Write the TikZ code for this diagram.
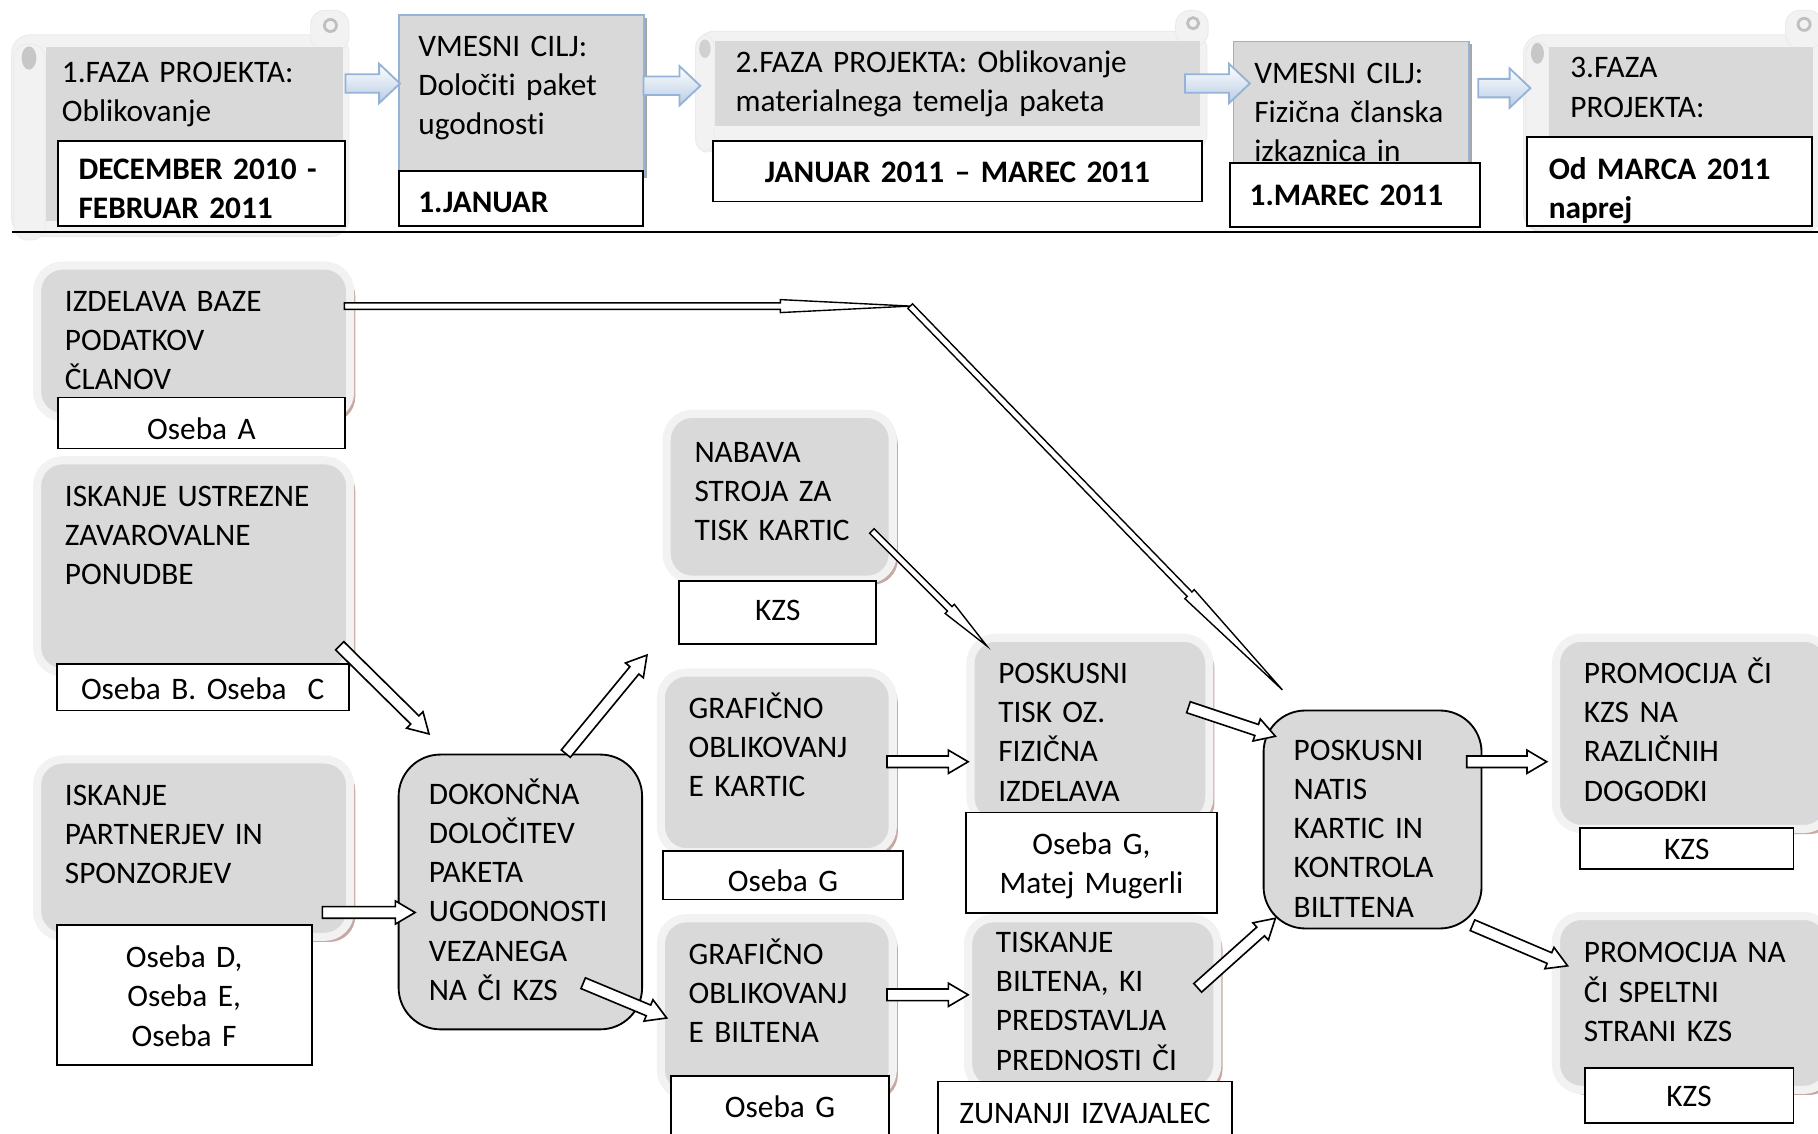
\documentclass[tikz,border=0pt]{standalone}
\usepackage{fontspec}
\setmainfont{Carlito}[Ligatures={TeX,NoCommon}]
\usetikzlibrary{calc,shadows}

\definecolor{boxgray}{HTML}{D9D9D9}
\definecolor{bandgray}{HTML}{F2F2F2}
\definecolor{goalblue}{HTML}{95B3D7}
\definecolor{arrowblue}{HTML}{B8CCE4}
\definecolor{shadowrose}{HTML}{C8A8A4}

\tikzset{
  arrowbody/.style n args={3}{to path={
      let \p1=($(\tikztotarget)-(\tikztostart)$),
          \n1={atan2(\y1,\x1)}, \n2={veclen(\x1,\y1)} in
      ([shift={(\tikztostart)},rotate=\n1]0pt,#1)
      -- ([shift={(\tikztostart)},rotate=\n1]\n2-#3,#1)
      -- ([shift={(\tikztostart)},rotate=\n1]\n2-#3,#2)
      -- (\tikztotarget)
      -- ([shift={(\tikztostart)},rotate=\n1]\n2-#3,-#2)
      -- ([shift={(\tikztostart)},rotate=\n1]\n2-#3,-#1)
      -- ([shift={(\tikztostart)},rotate=\n1]0pt,-#1) -- cycle}},
  flowarrow/.style={arrowbody={4pt}{8.5pt}{9pt}, draw=goalblue, line width=0.8pt,
    top color=white, bottom color=arrowblue},
  hollow/.style={arrowbody={2.5pt}{5pt}{8.5pt}, draw, fill=white, line width=0.7pt},
  slim/.style={arrowbody={1.4pt}{2.8pt}{#1}, draw, fill=white, line width=0.6pt},
  scrollskin/.style={fill=bandgray, draw=black!8, line width=0.4pt},
  phasebox/.style={rectangle, fill=boxgray, anchor=north west, align=left, inner ysep=0pt},
  goalbox/.style={rectangle, fill=boxgray, draw=goalblue, line width=0.8pt, anchor=north west,
    align=left, inner xsep=8.5pt, inner ysep=0pt, text height=17.9pt,
    drop shadow={shadow xshift=1.2pt, shadow yshift=-1.2pt, fill=black!35, opacity=1}},
  taskbox/.style={rectangle, rounded corners=11pt, fill=boxgray, draw=bandgray, line width=3.5pt,
    anchor=north west, align=left, inner xsep=12pt, inner ysep=0pt, text height=19.75pt,
    drop shadow={shadow xshift=2.2pt, shadow yshift=-2.2pt, fill=shadowrose, opacity=1}},
  keybox/.style={rectangle, rounded corners=18pt, fill=boxgray, draw, line width=0.8pt,
    anchor=north west, align=left, inner xsep=13pt, inner ysep=0pt, text height=21.5pt},
  tagbox/.style={rectangle, draw, fill=white, line width=0.8pt, anchor=north west,
    align=center, inner xsep=0pt, inner ysep=0pt},
  datebox/.style={tagbox, align=left, font=\fontsize{13.5}{16.9}\selectfont\bfseries}
}

\begin{document}
\begin{tikzpicture}[x=0.5pt, y=-0.5pt, font=\fontsize{13.5}{16.9}\selectfont]
  \useasboundingbox (0,0) rectangle (1568,978);

  \draw[scrollskin, rounded corners=8pt] (10,30) rectangle (301,204);
  \draw[scrollskin, rounded corners=6pt] (268,9) rectangle (301,44);
  \draw[black!25, line width=1.2pt] (285,22) circle (2.6pt);
  \draw[scrollskin, rounded corners=6pt] (12,38) rectangle (39,207);
  \fill[black!22] (25,50) ellipse (3.2pt and 5pt);

  \draw[scrollskin, rounded corners=8pt] (600,27) rectangle (1041,131);
  \draw[scrollskin, rounded corners=6pt] (1014,9) rectangle (1042,40);
  \draw[black!25, line width=1.2pt] (1029,20) circle (2.4pt);
  \draw[scrollskin, rounded corners=5pt] (600,30) rectangle (616,131);
  \fill[black!18] (608,42) ellipse (2.5pt and 4pt);

  \draw[scrollskin, rounded corners=8pt] (1314,30) rectangle (1572,200);
  \draw[scrollskin, rounded corners=6pt] (1540,9) rectangle (1572,42);
  \draw[black!25, line width=1.2pt] (1556,21) circle (2.6pt);
  \draw[scrollskin, rounded corners=5pt] (1316,36) rectangle (1336,198);
  \fill[black!22] (1326,46) ellipse (2.8pt and 4.5pt);

  \node[phasebox, inner xsep=7pt, text width=114pt, text height=15.4pt, text depth=59.6pt]
    (faza1) at (39,40) {1.FAZA PROJEKTA:\\Oblikovanje};
  \node[phasebox, inner xsep=9pt, text width=191.5pt, text height=13.4pt, text depth=23.1pt]
    (faza2) at (616,35) {2.FAZA PROJEKTA: Oblikovanje\\materialnega temelja paketa};
  \node[phasebox, inner xsep=9pt, text width=95.5pt, text height=13.4pt, text depth=61.6pt]
    (faza3) at (1336,40) {3.FAZA\\PROJEKTA:};

  \node[goalbox, text width=89pt, text depth=51.1pt] (cilj1) at (343,12)
    {VMESNI CILJ:\\Določiti paket\\ugodnosti};
  \node[goalbox, inner xsep=9pt, text width=83.5pt, text depth=39.6pt] (cilj2) at (1063,35)
    {VMESNI CILJ:\\Fizična~članska\\izkaznica in};

  \node[datebox, inner xsep=9pt, text width=106pt, text height=16.4pt, text depth=20.1pt]
    (rok1) at (49,121) {DECEMBER~2010~-\\FEBRUAR 2011};
  \node[datebox, inner xsep=8.5pt, text width=88.5pt, text height=17.9pt, text depth=5.6pt]
    (rok2) at (343,147) {1.JANUAR};
  \node[datebox, align=center, inner xsep=9pt, text width=193pt, text height=17.9pt, text depth=8.1pt]
    (rok3) at (614,121) {JANUAR 2011 – MAREC 2011};
  \node[datebox, inner xsep=8.5pt, text width=91pt, text height=18.4pt, text depth=9.1pt]
    (rok4) at (1060,140) {1.MAREC 2011};
  \node[datebox, inner xsep=9.5pt, text width=104pt, text height=18.4pt, text depth=20.1pt]
    (rok5) at (1316,117) {Od MARCA 2011\\naprej};

  \path (298,72) coordinate (b1s) (345,72) coordinate (b1e)
        (555,74) coordinate (b2s) (604,74) coordinate (b2e)
        (1022,72) coordinate (b3s) (1078,72) coordinate (b3e)
        (1275,76) coordinate (b4s) (1320,76) coordinate (b4e);
  \draw[flowarrow] (b1s) to (b1e);
  \draw[flowarrow] (b2s) to (b2e);
  \draw[flowarrow] (b3s) to (b3e);
  \draw[flowarrow] (b4s) to (b4e);

  \draw[line width=1.1pt] (10,200) -- (1568,200);

  \node[taskbox, text width=111pt, text depth=45.75pt] (izdelava) at (28.5,225.5)
    {IZDELAVA BAZE\\PODATKOV\\ČLANOV};
  \node[taskbox, text width=111pt, text depth=71.75pt] (zavarovanje) at (28.5,393.5)
    {ISKANJE~USTREZNE\\ZAVAROVALNE\\PONUDBE};
  \node[taskbox, text width=111pt, text depth=56.75pt] (partnerji) at (28.5,651.5)
    {ISKANJE\\PARTNERJEV IN\\SPONZORJEV};
  \node[taskbox, text width=73.5pt, text height=20.75pt, text depth=50.75pt] (nabava) at (571.5,353.5)
    {NABAVA\\STROJA ZA\\TISK~KARTIC};
  \node[taskbox, text width=76pt, text depth=57.75pt] (kartice) at (566.5,576.5)
    {GRAFIČNO\\OBLIKOVANJ\\E KARTIC};
  \node[taskbox, text width=76pt, text depth=56.75pt] (bilten) at (566.5,788.5)
    {GRAFIČNO\\OBLIKOVANJ\\E BILTENA};
  \node[taskbox, text width=79pt, text depth=60.25pt] (poskus) at (833.5,546.5)
    {POSKUSNI\\TISK OZ.\\FIZIČNA\\IZDELAVA};
  \node[taskbox, text width=83.5pt, text height=14.75pt, text depth=59.25pt] (tiskanje) at (831.5,788.5)
    {TISKANJE\\BILTENA, KI\\PREDSTAVLJA\\PREDNOSTI~ČI};
  \node[taskbox, text width=94pt, text depth=62.75pt] (dogodki) at (1338.5,546.5)
    {PROMOCIJA~ČI\\KZS NA\\RAZLIČNIH\\DOGODKI};
  \node[taskbox, text width=94pt, text height=20.25pt, text depth=54.75pt] (splet) at (1338.5,786.5)
    {PROMOCIJA~NA\\ČI SPELTNI\\STRANI KZS};

  \node[keybox, text width=79pt, text depth=97pt] (paket) at (343,650)
    {DOKONČNA\\DOLOČITEV\\PAKETA\\UGODONOSTI\\VEZANEGA\\NA ČI KZS};
  \node[keybox, text width=68pt, text depth=72.5pt] (natis) at (1089,612)
    {POSKUSNI\\NATIS\\KARTIC IN\\KONTROLA\\BILTTENA};

  \node[tagbox, text width=124pt, text height=18pt, text depth=4pt] (osebaA) at (49,342) {Oseba A};
  \node[tagbox, text width=126pt, text height=15.4pt, text depth=4.6pt] (osebaBC) at (48,572) {Oseba B. Oseba~~C};
  \node[tagbox, text width=110pt, text height=18.4pt, text depth=42.1pt] (osebaDEF) at (48,797)
    {Oseba D,\\Oseba E,\\Oseba F};
  \node[tagbox, text width=85pt, text height=17.4pt, text depth=10.1pt] (kzs1) at (585,500) {KZS};
  \node[tagbox, text width=103.5pt, text height=17.5pt, text depth=3.5pt] (osebaG1) at (571,733) {Oseba G};
  \node[tagbox, text width=94pt, text height=17.9pt, text depth=8.1pt] (osebaG2) at (578,927) {Oseba G};
  \node[tagbox, text width=108.5pt, text height=17.9pt, text depth=25.6pt] (osebaGM) at (832,700)
    {Oseba G,\\Matej Mugerli};
  \node[tagbox, text width=127pt, text height=17.9pt, text depth=7.1pt] (zunanji) at (808,932) {ZUNANJI IZVAJALEC};
  \node[tagbox, text width=92pt, text height=13.9pt, text depth=4.1pt] (kzs2) at (1362,713) {KZS};
  \node[tagbox, text width=90pt, text height=16.9pt, text depth=7.1pt] (kzs3) at (1366,920) {KZS};

  \path (297,264) coordinate (izd-out) (785,264) coordinate (kink) (1106,595) coordinate (natis-top)
        (293,557) coordinate (zav-out) (370,633) coordinate (paket-nw)
        (488,650) coordinate (paket-up) (558,565) coordinate (nabava-in)
        (278,787) coordinate (part-out) (358,787) coordinate (paket-w)
        (503,848) coordinate (paket-down) (575,878) coordinate (bilten-in)
        (752,458) coordinate (nabava-out) (851,557) coordinate (poskus-top)
        (765,657) coordinate (kartice-out) (835,657) coordinate (poskus-w)
        (765,858) coordinate (bilten-out) (835,858) coordinate (tiskanje-w)
        (1025,610) coordinate (poskus-out) (1100,635) coordinate (natis-nw)
        (1033,852) coordinate (tiskanje-out) (1100,792) coordinate (natis-sw)
        (1265,657) coordinate (natis-e) (1334,657) coordinate (dogodki-w)
        (1270,798) coordinate (natis-se) (1352,833) coordinate (splet-nw);
  \draw[slim=56pt] (izd-out) to (kink);
  \draw[slim=57.5pt] (kink) to (natis-top);
  \draw[slim=22.5pt] (nabava-out) to (poskus-top);
  \draw[hollow] (zav-out) to (paket-nw);
  \draw[hollow] (paket-up) to (nabava-in);
  \draw[hollow] (part-out) to (paket-w);
  \draw[hollow] (paket-down) to (bilten-in);
  \draw[hollow] (kartice-out) to (poskus-w);
  \draw[hollow] (bilten-out) to (tiskanje-w);
  \draw[hollow] (poskus-out) to (natis-nw);
  \draw[hollow] (tiskanje-out) to (natis-sw);
  \draw[hollow] (natis-e) to (dogodki-w);
  \draw[hollow] (natis-se) to (splet-nw);
\end{tikzpicture}
\end{document}
